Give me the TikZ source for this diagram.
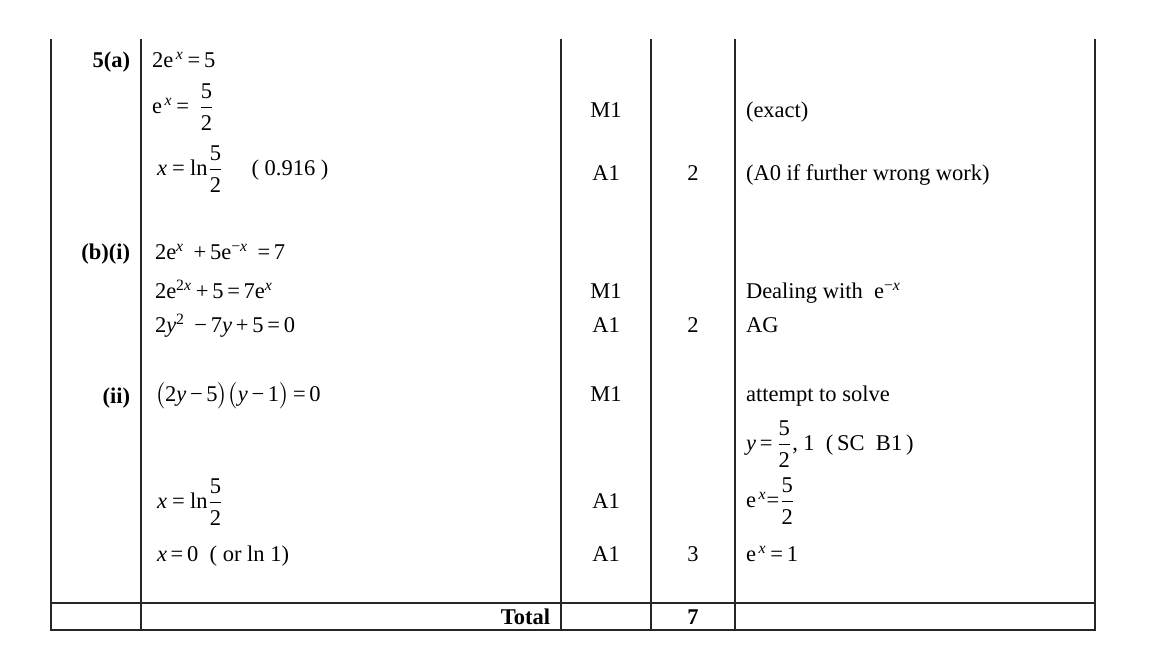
\documentclass[tikz,border=0pt]{standalone}
\usepackage{amsmath}
\usepackage{fontspec}
\setmainfont{Liberation Serif}
\newcommand\vx{\textit{x}}
\newcommand\vy{\textit{y}}
\newcommand\sx{\textsuperscript{\,\textit{x}}}
\newcommand\fr[2]{$\dfrac{\text{#1}\rule[-1.5pt]{0pt}{0pt}}{\rule{0pt}{10pt}\text{#2}}$}
\newcommand\eq{\,=\,}
\newcommand\weq{\hspace{2.6pt}=\hspace{2.6pt}}
\newcommand\pl{\,+\,}
\newcommand\mi{\,−\,}
\begin{document}
\begin{tikzpicture}[x=0.5pt,y=-0.5pt,
  every node/.style={inner sep=0pt, outer sep=0pt, font=\fontsize{11.25}{13.5}\selectfont},
  lbl/.style={anchor=base east, font=\fontsize{11.25}{13.5}\selectfont\bfseries},
  wk/.style={anchor=base west},
  mk/.style={anchor=base},
  bmk/.style={anchor=base, font=\fontsize{11.25}{13.5}\selectfont\bfseries},
  gridline/.style={line width=0.75pt, draw=black!85, line cap=rect}]
\useasboundingbox (0,0) rectangle (1171,671);
% table rules
\foreach \x in {51,141,561,651,735,1095} \draw[gridline] (\x,40) -- (\x,630);
\draw[gridline] (51,603) -- (1095,603);
\draw[gridline] (51,630) -- (1095,630);
% labels
\node[lbl] (la) at (130,67) {5(a)};
\node[lbl] (lbi) at (130,259) {(b)(i)};
\node[lbl] (lbii) at (130,403) {(ii)};
\node[lbl] (ltot) at (550,624) {Total};
% part (a)
\node[wk] (a1) at (152,67) {2e\sx\eq 5};
\node[wk] (a2) at (152,113) {e\sx\eq\ \fr{5}{2}};
\node[wk] (a3) at (157,175) {\vx\weq ln\fr{5}{2}\hspace{14pt}( 0.916 )};
\node[mk] (ma2) at (606,117) {M1};
\node[mk] (ma3) at (606,180) {A1};
\node[mk] (ta3) at (693,180) {2};
\node[wk] (ca2) at (746,117) {(exact)};
\node[wk] (ca3) at (746,180) {(A0 if further wrong work)};
% part (b)(i)
\node[wk] (b1) at (155,259) {2e\textsuperscript{\vx}\ \pl 5e\textsuperscript{−\vx}\ \eq 7};
\node[wk] (b2) at (155,298) {2e\textsuperscript{2\vx}\pl 5\eq 7e\textsuperscript{\vx}};
\node[wk] (b3) at (155,332) {2\vy\textsuperscript{2}\ \mi 7\vy\pl 5\eq 0};
\node[mk] (mb2) at (606,298) {M1};
\node[mk] (mb3) at (606,332) {A1};
\node[mk] (tb3) at (693,332) {2};
\node[wk] (cb2) at (746,298) {Dealing with\ \ e\textsuperscript{−\vx}};
\node[wk] (cb3) at (746,332) {AG};
% part (ii)
\node[wk] (c1) at (155,401) {$\bigl($2\vy\mi 5$\bigr)\bigl($\vy\mi 1$\bigr)$\eq 0};
\node[wk] (c3) at (157,508) {\vx\weq ln\fr{5}{2}};
\node[wk] (c4) at (157,561) {\vx\eq 0\ \ ( or ln 1)};
\node[mk] (mc1) at (606,401) {M1};
\node[mk] (mc3) at (606,508) {A1};
\node[mk] (mc4) at (606,561) {A1};
\node[mk] (tc4) at (693,561) {3};
\node[wk] (cc1) at (746,401) {attempt to solve};
\node[wk] (cc2) at (746,450) {\vy\eq\fr{5}{2}, 1\ \ (\,SC\ \ B1\,)};
\node[wk] (cc3) at (746,507) {e\sx =\fr{5}{2}};
\node[wk] (cc4) at (746,561) {e\sx\eq 1};
% total
\node[bmk] (tot) at (693,624) {7};
\end{tikzpicture}
\end{document}
